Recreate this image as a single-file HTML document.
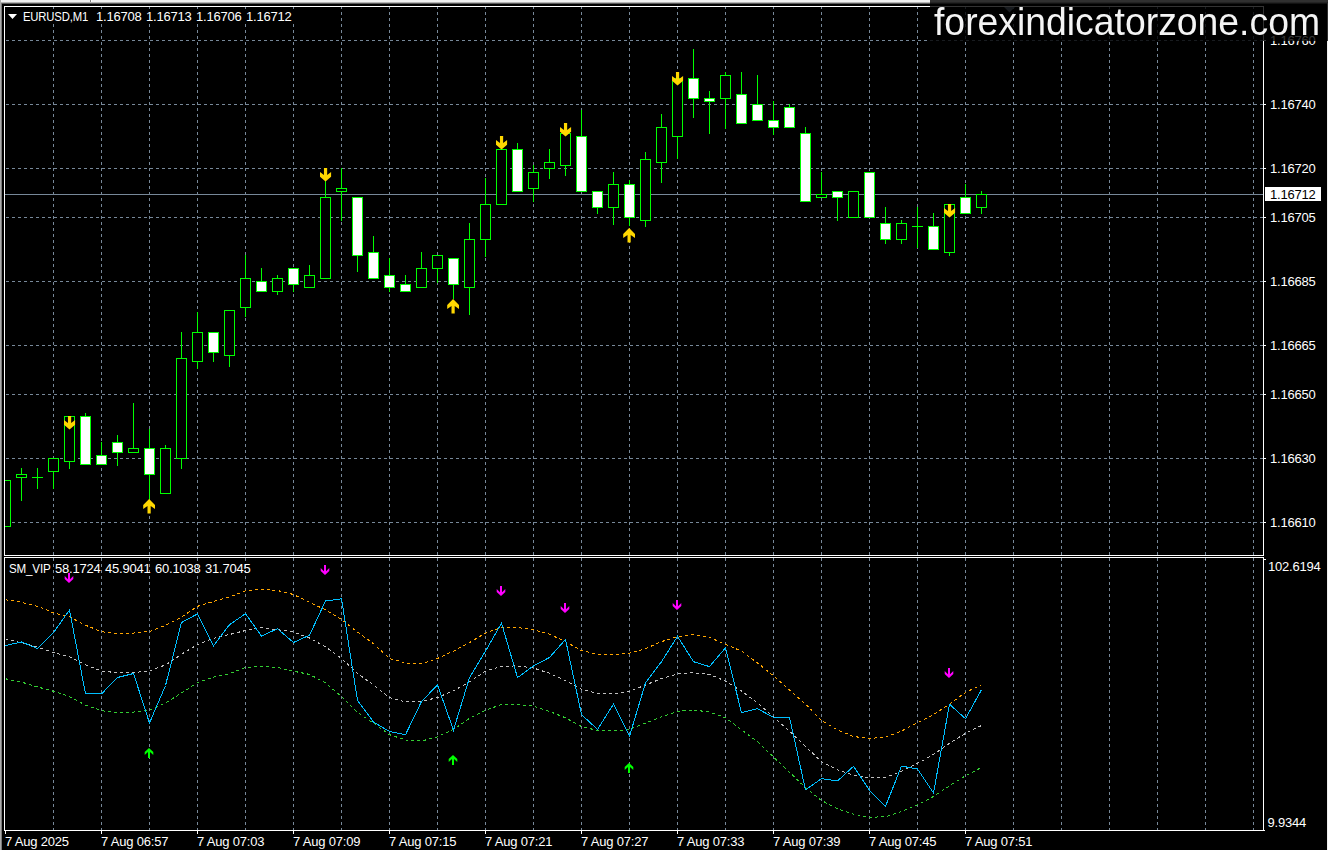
<!DOCTYPE html><html><head><meta charset="utf-8"><style>
html,body{margin:0;padding:0;background:#000;width:1328px;height:850px;overflow:hidden}
svg{display:block}
text{font-family:"Liberation Sans",sans-serif;fill:#fff}
.t{font-size:13px;letter-spacing:-0.2px}
</style></head><body>
<svg width="1328" height="850" viewBox="0 0 1328 850">
<defs><clipPath id="cm"><rect x="5" y="7" width="1258" height="548"/></clipPath>
<filter id="nof" x="0" y="0" width="1" height="1"><feOffset dx="0" dy="0"/></filter>
<clipPath id="cs"><rect x="5" y="558" width="1258" height="272"/></clipPath></defs>
<rect x="0" y="0" width="1328" height="850" fill="#000"/>
<rect x="0" y="0" width="1328" height="2" fill="#f0f0f0"/>
<rect x="0" y="2" width="1328" height="1" fill="#b4b4b4"/>
<rect x="0" y="3" width="1328" height="1" fill="#5a5a5a"/>
<rect x="90" y="0" width="1" height="2" fill="#808080"/>
<rect x="91" y="0" width="1" height="2" fill="#ffffff"/>
<rect x="0" y="0" width="1" height="850" fill="#ababab"/>
<rect x="1" y="3" width="1" height="850" fill="#7a7a7a"/>
<rect x="1327" y="3" width="1" height="850" fill="#f0f0f0"/>
<g shape-rendering="crispEdges">
<g clip-path="url(#cm)">
<line x1="0" y1="40.5" x2="1263" y2="40.5" stroke="#778899" stroke-dasharray="3 3"/>
<line x1="0" y1="104.5" x2="1263" y2="104.5" stroke="#778899" stroke-dasharray="3 3"/>
<line x1="0" y1="168.5" x2="1263" y2="168.5" stroke="#778899" stroke-dasharray="3 3"/>
<line x1="0" y1="217.5" x2="1263" y2="217.5" stroke="#778899" stroke-dasharray="3 3"/>
<line x1="0" y1="281.5" x2="1263" y2="281.5" stroke="#778899" stroke-dasharray="3 3"/>
<line x1="0" y1="345.5" x2="1263" y2="345.5" stroke="#778899" stroke-dasharray="3 3"/>
<line x1="0" y1="394.5" x2="1263" y2="394.5" stroke="#778899" stroke-dasharray="3 3"/>
<line x1="0" y1="458.5" x2="1263" y2="458.5" stroke="#778899" stroke-dasharray="3 3"/>
<line x1="0" y1="522.5" x2="1263" y2="522.5" stroke="#778899" stroke-dasharray="3 3"/>
<line x1="53.5" y1="0" x2="53.5" y2="556" stroke="#778899" stroke-dasharray="3 3"/>
<line x1="101.5" y1="0" x2="101.5" y2="556" stroke="#778899" stroke-dasharray="3 3"/>
<line x1="149.5" y1="0" x2="149.5" y2="556" stroke="#778899" stroke-dasharray="3 3"/>
<line x1="197.5" y1="0" x2="197.5" y2="556" stroke="#778899" stroke-dasharray="3 3"/>
<line x1="245.5" y1="0" x2="245.5" y2="556" stroke="#778899" stroke-dasharray="3 3"/>
<line x1="293.5" y1="0" x2="293.5" y2="556" stroke="#778899" stroke-dasharray="3 3"/>
<line x1="341.5" y1="0" x2="341.5" y2="556" stroke="#778899" stroke-dasharray="3 3"/>
<line x1="389.5" y1="0" x2="389.5" y2="556" stroke="#778899" stroke-dasharray="3 3"/>
<line x1="437.5" y1="0" x2="437.5" y2="556" stroke="#778899" stroke-dasharray="3 3"/>
<line x1="485.5" y1="0" x2="485.5" y2="556" stroke="#778899" stroke-dasharray="3 3"/>
<line x1="533.5" y1="0" x2="533.5" y2="556" stroke="#778899" stroke-dasharray="3 3"/>
<line x1="581.5" y1="0" x2="581.5" y2="556" stroke="#778899" stroke-dasharray="3 3"/>
<line x1="629.5" y1="0" x2="629.5" y2="556" stroke="#778899" stroke-dasharray="3 3"/>
<line x1="677.5" y1="0" x2="677.5" y2="556" stroke="#778899" stroke-dasharray="3 3"/>
<line x1="725.5" y1="0" x2="725.5" y2="556" stroke="#778899" stroke-dasharray="3 3"/>
<line x1="773.5" y1="0" x2="773.5" y2="556" stroke="#778899" stroke-dasharray="3 3"/>
<line x1="821.5" y1="0" x2="821.5" y2="556" stroke="#778899" stroke-dasharray="3 3"/>
<line x1="869.5" y1="0" x2="869.5" y2="556" stroke="#778899" stroke-dasharray="3 3"/>
<line x1="917.5" y1="0" x2="917.5" y2="556" stroke="#778899" stroke-dasharray="3 3"/>
<line x1="965.5" y1="0" x2="965.5" y2="556" stroke="#778899" stroke-dasharray="3 3"/>
<line x1="1013.5" y1="0" x2="1013.5" y2="556" stroke="#778899" stroke-dasharray="3 3"/>
<line x1="1061.5" y1="0" x2="1061.5" y2="556" stroke="#778899" stroke-dasharray="3 3"/>
<line x1="1109.5" y1="0" x2="1109.5" y2="556" stroke="#778899" stroke-dasharray="3 3"/>
<line x1="1157.5" y1="0" x2="1157.5" y2="556" stroke="#778899" stroke-dasharray="3 3"/>
<line x1="1205.5" y1="0" x2="1205.5" y2="556" stroke="#778899" stroke-dasharray="3 3"/>
<line x1="1253.5" y1="0" x2="1253.5" y2="556" stroke="#778899" stroke-dasharray="3 3"/>
<polygon points="1004,7 1015,7 1009.5,12.5" fill="#778899" shape-rendering="geometricPrecision"/>
<rect x="5" y="194" width="1258" height="1" fill="#778899"/>
<rect x="5" y="480" width="1" height="47" fill="#00ff00"/>
<rect x="0" y="480" width="11" height="47" fill="#00ff00"/>
<rect x="1" y="481" width="9" height="45" fill="#000"/>
<rect x="21" y="468" width="1" height="33" fill="#00ff00"/>
<rect x="16" y="474" width="11" height="4" fill="#00ff00"/>
<rect x="17" y="475" width="9" height="2" fill="#000"/>
<rect x="37" y="468" width="1" height="21" fill="#00ff00"/>
<rect x="32" y="477" width="11" height="1" fill="#00ff00"/>
<rect x="53" y="458" width="1" height="31" fill="#00ff00"/>
<rect x="48" y="458" width="11" height="14" fill="#00ff00"/>
<rect x="49" y="459" width="9" height="12" fill="#000"/>
<rect x="69" y="416" width="1" height="53" fill="#00ff00"/>
<rect x="64" y="416" width="11" height="46" fill="#00ff00"/>
<rect x="65" y="417" width="9" height="44" fill="#000"/>
<rect x="85" y="413" width="1" height="52" fill="#00ff00"/>
<rect x="80" y="416" width="11" height="49" fill="#00ff00"/>
<rect x="81" y="417" width="9" height="47" fill="#fff"/>
<rect x="101" y="442" width="1" height="23" fill="#00ff00"/>
<rect x="96" y="455" width="11" height="10" fill="#00ff00"/>
<rect x="97" y="456" width="9" height="8" fill="#fff"/>
<rect x="117" y="435" width="1" height="31" fill="#00ff00"/>
<rect x="112" y="442" width="11" height="11" fill="#00ff00"/>
<rect x="113" y="443" width="9" height="9" fill="#fff"/>
<rect x="133" y="403" width="1" height="50" fill="#00ff00"/>
<rect x="128" y="448" width="11" height="5" fill="#00ff00"/>
<rect x="129" y="449" width="9" height="3" fill="#000"/>
<rect x="149" y="429" width="1" height="72" fill="#00ff00"/>
<rect x="144" y="448" width="11" height="27" fill="#00ff00"/>
<rect x="145" y="449" width="9" height="25" fill="#fff"/>
<rect x="165" y="445" width="1" height="49" fill="#00ff00"/>
<rect x="160" y="448" width="11" height="46" fill="#00ff00"/>
<rect x="161" y="449" width="9" height="44" fill="#000"/>
<rect x="181" y="332" width="1" height="137" fill="#00ff00"/>
<rect x="176" y="358" width="11" height="101" fill="#00ff00"/>
<rect x="177" y="359" width="9" height="99" fill="#000"/>
<rect x="197" y="312" width="1" height="57" fill="#00ff00"/>
<rect x="192" y="332" width="11" height="30" fill="#00ff00"/>
<rect x="193" y="333" width="9" height="28" fill="#000"/>
<rect x="213" y="332" width="1" height="30" fill="#00ff00"/>
<rect x="208" y="332" width="11" height="21" fill="#00ff00"/>
<rect x="209" y="333" width="9" height="19" fill="#fff"/>
<rect x="229" y="310" width="1" height="57" fill="#00ff00"/>
<rect x="224" y="310" width="11" height="46" fill="#00ff00"/>
<rect x="225" y="311" width="9" height="44" fill="#000"/>
<rect x="245" y="255" width="1" height="62" fill="#00ff00"/>
<rect x="240" y="278" width="11" height="30" fill="#00ff00"/>
<rect x="241" y="279" width="9" height="28" fill="#000"/>
<rect x="261" y="268" width="1" height="24" fill="#00ff00"/>
<rect x="256" y="281" width="11" height="11" fill="#00ff00"/>
<rect x="257" y="282" width="9" height="9" fill="#fff"/>
<rect x="277" y="275" width="1" height="20" fill="#00ff00"/>
<rect x="272" y="278" width="11" height="14" fill="#00ff00"/>
<rect x="273" y="279" width="9" height="12" fill="#000"/>
<rect x="293" y="268" width="1" height="24" fill="#00ff00"/>
<rect x="288" y="268" width="11" height="17" fill="#00ff00"/>
<rect x="289" y="269" width="9" height="15" fill="#fff"/>
<rect x="309" y="265" width="1" height="23" fill="#00ff00"/>
<rect x="304" y="275" width="11" height="13" fill="#00ff00"/>
<rect x="305" y="276" width="9" height="11" fill="#000"/>
<rect x="325" y="181" width="1" height="98" fill="#00ff00"/>
<rect x="320" y="197" width="11" height="82" fill="#00ff00"/>
<rect x="321" y="198" width="9" height="80" fill="#000"/>
<rect x="341" y="168" width="1" height="53" fill="#00ff00"/>
<rect x="336" y="188" width="11" height="4" fill="#00ff00"/>
<rect x="337" y="189" width="9" height="2" fill="#000"/>
<rect x="357" y="197" width="1" height="75" fill="#00ff00"/>
<rect x="352" y="197" width="11" height="59" fill="#00ff00"/>
<rect x="353" y="198" width="9" height="57" fill="#fff"/>
<rect x="373" y="236" width="1" height="43" fill="#00ff00"/>
<rect x="368" y="252" width="11" height="27" fill="#00ff00"/>
<rect x="369" y="253" width="9" height="25" fill="#fff"/>
<rect x="389" y="258" width="1" height="34" fill="#00ff00"/>
<rect x="384" y="275" width="11" height="13" fill="#00ff00"/>
<rect x="385" y="276" width="9" height="11" fill="#fff"/>
<rect x="405" y="275" width="1" height="17" fill="#00ff00"/>
<rect x="400" y="284" width="11" height="8" fill="#00ff00"/>
<rect x="401" y="285" width="9" height="6" fill="#fff"/>
<rect x="421" y="252" width="1" height="36" fill="#00ff00"/>
<rect x="416" y="268" width="11" height="20" fill="#00ff00"/>
<rect x="417" y="269" width="9" height="18" fill="#000"/>
<rect x="437" y="255" width="1" height="28" fill="#00ff00"/>
<rect x="432" y="255" width="11" height="14" fill="#00ff00"/>
<rect x="433" y="256" width="9" height="12" fill="#000"/>
<rect x="453" y="258" width="1" height="41" fill="#00ff00"/>
<rect x="448" y="258" width="11" height="27" fill="#00ff00"/>
<rect x="449" y="259" width="9" height="25" fill="#fff"/>
<rect x="469" y="223" width="1" height="92" fill="#00ff00"/>
<rect x="464" y="239" width="11" height="49" fill="#00ff00"/>
<rect x="465" y="240" width="9" height="47" fill="#000"/>
<rect x="485" y="178" width="1" height="79" fill="#00ff00"/>
<rect x="480" y="204" width="11" height="36" fill="#00ff00"/>
<rect x="481" y="205" width="9" height="34" fill="#000"/>
<rect x="501" y="149" width="1" height="56" fill="#00ff00"/>
<rect x="496" y="149" width="11" height="56" fill="#00ff00"/>
<rect x="497" y="150" width="9" height="54" fill="#000"/>
<rect x="517" y="143" width="1" height="49" fill="#00ff00"/>
<rect x="512" y="149" width="11" height="43" fill="#00ff00"/>
<rect x="513" y="150" width="9" height="41" fill="#fff"/>
<rect x="533" y="165" width="1" height="37" fill="#00ff00"/>
<rect x="528" y="172" width="11" height="17" fill="#00ff00"/>
<rect x="529" y="173" width="9" height="15" fill="#000"/>
<rect x="549" y="149" width="1" height="30" fill="#00ff00"/>
<rect x="544" y="162" width="11" height="7" fill="#00ff00"/>
<rect x="545" y="163" width="9" height="5" fill="#000"/>
<rect x="565" y="133" width="1" height="43" fill="#00ff00"/>
<rect x="560" y="133" width="11" height="33" fill="#00ff00"/>
<rect x="561" y="134" width="9" height="31" fill="#000"/>
<rect x="581" y="110" width="1" height="82" fill="#00ff00"/>
<rect x="576" y="136" width="11" height="56" fill="#00ff00"/>
<rect x="577" y="137" width="9" height="54" fill="#fff"/>
<rect x="597" y="191" width="1" height="23" fill="#00ff00"/>
<rect x="592" y="191" width="11" height="17" fill="#00ff00"/>
<rect x="593" y="192" width="9" height="15" fill="#fff"/>
<rect x="613" y="172" width="1" height="53" fill="#00ff00"/>
<rect x="608" y="184" width="11" height="24" fill="#00ff00"/>
<rect x="609" y="185" width="9" height="22" fill="#000"/>
<rect x="629" y="180" width="1" height="46" fill="#00ff00"/>
<rect x="624" y="184" width="11" height="34" fill="#00ff00"/>
<rect x="625" y="185" width="9" height="32" fill="#fff"/>
<rect x="645" y="152" width="1" height="75" fill="#00ff00"/>
<rect x="640" y="159" width="11" height="62" fill="#00ff00"/>
<rect x="641" y="160" width="9" height="60" fill="#000"/>
<rect x="661" y="114" width="1" height="69" fill="#00ff00"/>
<rect x="656" y="127" width="11" height="36" fill="#00ff00"/>
<rect x="657" y="128" width="9" height="34" fill="#000"/>
<rect x="677" y="78" width="1" height="81" fill="#00ff00"/>
<rect x="672" y="78" width="11" height="59" fill="#00ff00"/>
<rect x="673" y="79" width="9" height="57" fill="#000"/>
<rect x="693" y="49" width="1" height="69" fill="#00ff00"/>
<rect x="688" y="78" width="11" height="21" fill="#00ff00"/>
<rect x="689" y="79" width="9" height="19" fill="#fff"/>
<rect x="709" y="91" width="1" height="43" fill="#00ff00"/>
<rect x="704" y="98" width="11" height="4" fill="#00ff00"/>
<rect x="705" y="99" width="9" height="2" fill="#fff"/>
<rect x="725" y="72" width="1" height="57" fill="#00ff00"/>
<rect x="720" y="75" width="11" height="24" fill="#00ff00"/>
<rect x="721" y="76" width="9" height="22" fill="#000"/>
<rect x="741" y="72" width="1" height="52" fill="#00ff00"/>
<rect x="736" y="94" width="11" height="30" fill="#00ff00"/>
<rect x="737" y="95" width="9" height="28" fill="#fff"/>
<rect x="757" y="75" width="1" height="46" fill="#00ff00"/>
<rect x="752" y="104" width="11" height="17" fill="#00ff00"/>
<rect x="753" y="105" width="9" height="15" fill="#fff"/>
<rect x="773" y="101" width="1" height="34" fill="#00ff00"/>
<rect x="768" y="120" width="11" height="8" fill="#00ff00"/>
<rect x="769" y="121" width="9" height="6" fill="#fff"/>
<rect x="789" y="104" width="1" height="24" fill="#00ff00"/>
<rect x="784" y="107" width="11" height="21" fill="#00ff00"/>
<rect x="785" y="108" width="9" height="19" fill="#fff"/>
<rect x="805" y="127" width="1" height="75" fill="#00ff00"/>
<rect x="800" y="133" width="11" height="69" fill="#00ff00"/>
<rect x="801" y="134" width="9" height="67" fill="#fff"/>
<rect x="821" y="172" width="1" height="26" fill="#00ff00"/>
<rect x="816" y="194" width="11" height="4" fill="#00ff00"/>
<rect x="817" y="195" width="9" height="2" fill="#000"/>
<rect x="837" y="191" width="1" height="30" fill="#00ff00"/>
<rect x="832" y="191" width="11" height="7" fill="#00ff00"/>
<rect x="833" y="192" width="9" height="5" fill="#fff"/>
<rect x="853" y="191" width="1" height="27" fill="#00ff00"/>
<rect x="848" y="191" width="11" height="27" fill="#00ff00"/>
<rect x="849" y="192" width="9" height="25" fill="#000"/>
<rect x="869" y="172" width="1" height="46" fill="#00ff00"/>
<rect x="864" y="172" width="11" height="46" fill="#00ff00"/>
<rect x="865" y="173" width="9" height="44" fill="#fff"/>
<rect x="885" y="207" width="1" height="37" fill="#00ff00"/>
<rect x="880" y="223" width="11" height="17" fill="#00ff00"/>
<rect x="881" y="224" width="9" height="15" fill="#fff"/>
<rect x="901" y="220" width="1" height="24" fill="#00ff00"/>
<rect x="896" y="223" width="11" height="17" fill="#00ff00"/>
<rect x="897" y="224" width="9" height="15" fill="#000"/>
<rect x="917" y="207" width="1" height="41" fill="#00ff00"/>
<rect x="912" y="226" width="11" height="1" fill="#00ff00"/>
<rect x="933" y="213" width="1" height="37" fill="#00ff00"/>
<rect x="928" y="226" width="11" height="24" fill="#00ff00"/>
<rect x="929" y="227" width="9" height="22" fill="#fff"/>
<rect x="949" y="204" width="1" height="52" fill="#00ff00"/>
<rect x="944" y="204" width="11" height="49" fill="#00ff00"/>
<rect x="945" y="205" width="9" height="47" fill="#000"/>
<rect x="965" y="184" width="1" height="30" fill="#00ff00"/>
<rect x="960" y="197" width="11" height="17" fill="#00ff00"/>
<rect x="961" y="198" width="9" height="15" fill="#fff"/>
<rect x="981" y="191" width="1" height="23" fill="#00ff00"/>
<rect x="976" y="194" width="11" height="14" fill="#00ff00"/>
<rect x="977" y="195" width="9" height="12" fill="#000"/>
</g>
<g clip-path="url(#cs)">
<line x1="53.5" y1="0" x2="53.5" y2="850" stroke="#778899" stroke-dasharray="3 3"/>
<line x1="101.5" y1="0" x2="101.5" y2="850" stroke="#778899" stroke-dasharray="3 3"/>
<line x1="149.5" y1="0" x2="149.5" y2="850" stroke="#778899" stroke-dasharray="3 3"/>
<line x1="197.5" y1="0" x2="197.5" y2="850" stroke="#778899" stroke-dasharray="3 3"/>
<line x1="245.5" y1="0" x2="245.5" y2="850" stroke="#778899" stroke-dasharray="3 3"/>
<line x1="293.5" y1="0" x2="293.5" y2="850" stroke="#778899" stroke-dasharray="3 3"/>
<line x1="341.5" y1="0" x2="341.5" y2="850" stroke="#778899" stroke-dasharray="3 3"/>
<line x1="389.5" y1="0" x2="389.5" y2="850" stroke="#778899" stroke-dasharray="3 3"/>
<line x1="437.5" y1="0" x2="437.5" y2="850" stroke="#778899" stroke-dasharray="3 3"/>
<line x1="485.5" y1="0" x2="485.5" y2="850" stroke="#778899" stroke-dasharray="3 3"/>
<line x1="533.5" y1="0" x2="533.5" y2="850" stroke="#778899" stroke-dasharray="3 3"/>
<line x1="581.5" y1="0" x2="581.5" y2="850" stroke="#778899" stroke-dasharray="3 3"/>
<line x1="629.5" y1="0" x2="629.5" y2="850" stroke="#778899" stroke-dasharray="3 3"/>
<line x1="677.5" y1="0" x2="677.5" y2="850" stroke="#778899" stroke-dasharray="3 3"/>
<line x1="725.5" y1="0" x2="725.5" y2="850" stroke="#778899" stroke-dasharray="3 3"/>
<line x1="773.5" y1="0" x2="773.5" y2="850" stroke="#778899" stroke-dasharray="3 3"/>
<line x1="821.5" y1="0" x2="821.5" y2="850" stroke="#778899" stroke-dasharray="3 3"/>
<line x1="869.5" y1="0" x2="869.5" y2="850" stroke="#778899" stroke-dasharray="3 3"/>
<line x1="917.5" y1="0" x2="917.5" y2="850" stroke="#778899" stroke-dasharray="3 3"/>
<line x1="965.5" y1="0" x2="965.5" y2="850" stroke="#778899" stroke-dasharray="3 3"/>
<line x1="1013.5" y1="0" x2="1013.5" y2="850" stroke="#778899" stroke-dasharray="3 3"/>
<line x1="1061.5" y1="0" x2="1061.5" y2="850" stroke="#778899" stroke-dasharray="3 3"/>
<line x1="1109.5" y1="0" x2="1109.5" y2="850" stroke="#778899" stroke-dasharray="3 3"/>
<line x1="1157.5" y1="0" x2="1157.5" y2="850" stroke="#778899" stroke-dasharray="3 3"/>
<line x1="1205.5" y1="0" x2="1205.5" y2="850" stroke="#778899" stroke-dasharray="3 3"/>
<line x1="1253.5" y1="0" x2="1253.5" y2="850" stroke="#778899" stroke-dasharray="3 3"/>
</g>
</g>
<g clip-path="url(#cm)">
<polygon points="67.95,416.00 71.15,416.00 71.15,423.10 75.10,419.90 75.10,424.80 69.55,429.50 64.00,424.80 64.00,419.90 67.95,423.10" fill="#ffd700"/>
<polygon points="323.95,168.00 327.15,168.00 327.15,175.10 331.10,171.90 331.10,176.80 325.55,181.50 320.00,176.80 320.00,171.90 323.95,175.10" fill="#ffd700"/>
<polygon points="499.95,136.00 503.15,136.00 503.15,143.10 507.10,139.90 507.10,144.80 501.55,149.50 496.00,144.80 496.00,139.90 499.95,143.10" fill="#ffd700"/>
<polygon points="563.95,123.00 567.15,123.00 567.15,130.10 571.10,126.90 571.10,131.80 565.55,136.50 560.00,131.80 560.00,126.90 563.95,130.10" fill="#ffd700"/>
<polygon points="675.95,72.00 679.15,72.00 679.15,79.10 683.10,75.90 683.10,80.80 677.55,85.50 672.00,80.80 672.00,75.90 675.95,79.10" fill="#ffd700"/>
<polygon points="947.95,204.00 951.15,204.00 951.15,211.10 955.10,207.90 955.10,212.80 949.55,217.50 944.00,212.80 944.00,207.90 947.95,211.10" fill="#ffd700"/>
<polygon points="149.10,499.00 155.00,504.90 155.00,508.90 150.70,506.00 150.70,513.40 147.50,513.40 147.50,506.00 143.20,508.90 143.20,504.90" fill="#ffd700"/>
<polygon points="453.10,299.00 459.00,304.90 459.00,308.90 454.70,306.00 454.70,313.40 451.50,313.40 451.50,306.00 447.20,308.90 447.20,304.90" fill="#ffd700"/>
<polygon points="629.10,228.00 635.00,233.90 635.00,237.90 630.70,235.00 630.70,242.40 627.50,242.40 627.50,235.00 623.20,237.90 623.20,233.90" fill="#ffd700"/>
</g>
<g clip-path="url(#cs)" shape-rendering="crispEdges" fill="none">
<polyline points="5.5,599.7 21.5,602.3 37.5,606.3 53.5,612.8 69.5,616.9 85.5,625.2 101.5,631.7 117.5,633.5 133.5,633.1 149.5,631.5 165.5,625.2 181.5,617.2 197.5,606.3 213.5,601.4 229.5,597.0 245.5,590.8 261.5,589.4 277.5,590.5 293.5,594.5 309.5,602.4 325.5,609.8 341.5,619.4 357.5,632.1 373.5,643.7 389.5,658.5 405.5,663.0 421.5,663.8 437.5,658.5 453.5,651.1 469.5,642.6 485.5,633.1 501.5,627.4 517.5,627.4 533.5,629.9 549.5,634.2 565.5,641.6 581.5,650.5 597.5,654.3 613.5,654.9 629.5,653.2 645.5,648.6 661.5,641.6 677.5,636.7 693.5,634.6 709.5,637.4 725.5,644.4 741.5,651.1 757.5,662.9 773.5,675.8 789.5,689.9 805.5,704.0 821.5,720.5 837.5,729.9 853.5,736.5 869.5,738.5 885.5,737.1 901.5,731.0 917.5,722.8 933.5,714.7 949.5,704.2 965.5,692.4 981.5,684.8" stroke="#ffa500" stroke-width="1" stroke-dasharray="3 3"/>
<polyline points="5.5,638.8 21.5,642.8 37.5,647.2 53.5,652.5 69.5,656.9 85.5,664.9 101.5,671.0 117.5,672.8 133.5,672.5 149.5,671.0 165.5,664.9 181.5,654.3 197.5,644.6 213.5,638.4 229.5,634.5 245.5,630.5 261.5,627.8 277.5,629.6 293.5,632.0 309.5,638.0 325.5,646.9 341.5,658.5 357.5,673.3 373.5,685.0 389.5,697.7 405.5,701.9 421.5,701.5 437.5,697.5 453.5,690.9 469.5,681.8 485.5,671.2 501.5,666.3 517.5,665.9 533.5,668.0 549.5,673.3 565.5,680.7 581.5,689.2 597.5,693.4 613.5,693.9 629.5,691.3 645.5,685.0 661.5,678.6 677.5,674.0 693.5,672.7 709.5,674.4 725.5,681.1 741.5,691.1 757.5,702.9 773.5,717.0 789.5,731.1 805.5,746.4 821.5,761.7 837.5,769.9 853.5,775.2 869.5,778.0 885.5,777.3 901.5,771.3 917.5,763.5 933.5,754.5 949.5,743.3 965.5,733.3 981.5,725.5" stroke="#c0c0c0" stroke-width="1" stroke-dasharray="3 3"/>
<polyline points="5.5,678.8 21.5,682.1 37.5,686.9 53.5,691.3 69.5,696.6 85.5,705.1 101.5,710.7 117.5,712.5 133.5,712.1 149.5,710.1 165.5,702.8 181.5,693.1 197.5,682.5 213.5,677.2 229.5,673.7 245.5,667.5 261.5,666.3 277.5,667.5 293.5,671.2 309.5,674.4 325.5,682.9 341.5,696.6 357.5,712.5 373.5,723.1 389.5,734.7 405.5,740.0 421.5,741.1 437.5,736.8 453.5,729.4 469.5,718.4 485.5,710.4 501.5,704.4 517.5,704.4 533.5,706.1 549.5,711.4 565.5,717.8 581.5,726.5 597.5,730.5 613.5,731.1 629.5,729.4 645.5,723.1 661.5,716.7 677.5,711.4 693.5,709.9 709.5,712.1 725.5,717.7 741.5,729.9 757.5,741.7 773.5,757.0 789.5,772.3 805.5,787.6 821.5,800.5 837.5,808.7 853.5,814.2 869.5,817.3 885.5,816.7 901.5,811.5 917.5,804.8 933.5,796.5 949.5,785.8 965.5,775.8 981.5,767.5" stroke="#32cd32" stroke-width="1" stroke-dasharray="3 3"/>
<polyline points="5.5,645.5 21.5,642.0 37.5,648.5 53.5,632.5 69.5,610.0 85.5,693.9 101.5,693.9 117.5,677.5 133.5,673.5 149.5,723.0 165.5,685.5 181.5,622.5 197.5,613.9 213.5,645.8 229.5,624.7 245.5,613.7 261.5,636.1 277.5,628.7 293.5,642.5 309.5,635.2 325.5,601.0 341.5,598.8 357.5,700.4 373.5,722.0 389.5,731.5 405.5,734.7 421.5,701.5 437.5,685.0 453.5,730.1 469.5,677.6 485.5,651.1 501.5,623.2 517.5,677.6 533.5,665.9 549.5,657.5 565.5,639.5 581.5,714.5 597.5,729.5 613.5,704.0 629.5,736.2 645.5,682.9 661.5,661.7 677.5,636.3 693.5,661.7 709.5,666.6 725.5,647.8 741.5,712.7 757.5,708.7 773.5,717.4 789.5,717.4 805.5,789.9 821.5,778.6 837.5,781.0 853.5,766.3 869.5,790.3 885.5,806.4 901.5,766.1 917.5,769.0 933.5,793.0 949.5,704.2 965.5,718.7 981.5,689.7" stroke="#00bfff" stroke-width="1"/>
</g>
<g clip-path="url(#cs)">
<polygon points="68.00,573.00 70.00,573.00 70.00,579.20 73.30,576.00 73.30,579.10 69.00,583.00 64.70,579.10 64.70,576.00 68.00,579.20" fill="#ff00ff"/>
<polygon points="324.00,565.00 326.00,565.00 326.00,571.20 329.30,568.00 329.30,571.10 325.00,575.00 320.70,571.10 320.70,568.00 324.00,571.20" fill="#ff00ff"/>
<polygon points="500.00,586.00 502.00,586.00 502.00,592.20 505.30,589.00 505.30,592.10 501.00,596.00 496.70,592.10 496.70,589.00 500.00,592.20" fill="#ff00ff"/>
<polygon points="564.00,603.00 566.00,603.00 566.00,609.20 569.30,606.00 569.30,609.10 565.00,613.00 560.70,609.10 560.70,606.00 564.00,609.20" fill="#ff00ff"/>
<polygon points="676.00,600.00 678.00,600.00 678.00,606.20 681.30,603.00 681.30,606.10 677.00,610.00 672.70,606.10 672.70,603.00 676.00,606.20" fill="#ff00ff"/>
<polygon points="948.00,668.00 950.00,668.00 950.00,674.20 953.30,671.00 953.30,674.10 949.00,678.00 944.70,674.10 944.70,671.00 948.00,674.20" fill="#ff00ff"/>
<polygon points="149.00,748.00 153.30,752.00 153.30,755.00 150.00,751.90 150.00,758.00 148.00,758.00 148.00,751.90 144.70,755.00 144.70,752.00" fill="#00ff00"/>
<polygon points="453.00,755.00 457.30,759.00 457.30,762.00 454.00,758.90 454.00,765.00 452.00,765.00 452.00,758.90 448.70,762.00 448.70,759.00" fill="#00ff00"/>
<polygon points="629.00,763.00 633.30,767.00 633.30,770.00 630.00,766.90 630.00,773.00 628.00,773.00 628.00,766.90 624.70,770.00 624.70,767.00" fill="#00ff00"/>
</g>
<g shape-rendering="crispEdges">
<rect x="4" y="6" width="1260" height="1" fill="#fff"/>
<rect x="4" y="6" width="1" height="550" fill="#fff"/>
<rect x="4" y="555" width="1260" height="1" fill="#fff"/>
<rect x="1263" y="6" width="1" height="550" fill="#fff"/>
<rect x="4" y="557" width="1260" height="1" fill="#fff"/>
<rect x="4" y="557" width="1" height="274" fill="#fff"/>
<rect x="4" y="830" width="1260" height="1" fill="#fff"/>
<rect x="1263" y="557" width="1" height="274" fill="#fff"/>
<rect x="1264" y="40" width="2" height="1" fill="#fff"/>
<rect x="1264" y="104" width="2" height="1" fill="#fff"/>
<rect x="1264" y="168" width="2" height="1" fill="#fff"/>
<rect x="1264" y="217" width="2" height="1" fill="#fff"/>
<rect x="1264" y="281" width="2" height="1" fill="#fff"/>
<rect x="1264" y="345" width="2" height="1" fill="#fff"/>
<rect x="1264" y="394" width="2" height="1" fill="#fff"/>
<rect x="1264" y="458" width="2" height="1" fill="#fff"/>
<rect x="1264" y="522" width="2" height="1" fill="#fff"/>
<rect x="1264" y="559" width="2" height="1" fill="#fff"/>
<rect x="1264" y="830" width="1" height="1" fill="#fff"/>
<rect x="5" y="831" width="1" height="3" fill="#fff"/>
<rect x="101" y="831" width="1" height="3" fill="#fff"/>
<rect x="197" y="831" width="1" height="3" fill="#fff"/>
<rect x="293" y="831" width="1" height="3" fill="#fff"/>
<rect x="389" y="831" width="1" height="3" fill="#fff"/>
<rect x="485" y="831" width="1" height="3" fill="#fff"/>
<rect x="581" y="831" width="1" height="3" fill="#fff"/>
<rect x="677" y="831" width="1" height="3" fill="#fff"/>
<rect x="773" y="831" width="1" height="3" fill="#fff"/>
<rect x="869" y="831" width="1" height="3" fill="#fff"/>
<rect x="965" y="831" width="1" height="3" fill="#fff"/>
</g>
<text class="t" x="1270" y="45">1.16760</text>
<text class="t" x="1270" y="109">1.16740</text>
<text class="t" x="1270" y="173">1.16720</text>
<text class="t" x="1270" y="222">1.16705</text>
<text class="t" x="1270" y="286">1.16685</text>
<text class="t" x="1270" y="350">1.16665</text>
<text class="t" x="1270" y="399">1.16650</text>
<text class="t" x="1270" y="463">1.16630</text>
<text class="t" x="1270" y="527">1.16610</text>
<rect x="1265" y="187" width="56" height="14" fill="#fff"/>
<text class="t" x="1270" y="199" style="fill:#000">1.16712</text>
<text class="t" x="1268" y="571">102.6194</text>
<text class="t" x="1267.5" y="827">9.9344</text>
<text class="t" x="5" y="846">7 Aug 2025</text>
<text class="t" x="101" y="846">7 Aug 06:57</text>
<text class="t" x="197" y="846">7 Aug 07:03</text>
<text class="t" x="293" y="846">7 Aug 07:09</text>
<text class="t" x="389" y="846">7 Aug 07:15</text>
<text class="t" x="485" y="846">7 Aug 07:21</text>
<text class="t" x="581" y="846">7 Aug 07:27</text>
<text class="t" x="677" y="846">7 Aug 07:33</text>
<text class="t" x="773" y="846">7 Aug 07:39</text>
<text class="t" x="869" y="846">7 Aug 07:45</text>
<text class="t" x="965" y="846">7 Aug 07:51</text>
<rect x="8" y="9" width="290" height="14" fill="#000"/>
<polygon points="8,14 17,14 12.5,19" fill="#fff"/>
<text class="t" x="23" y="21" textLength="65" lengthAdjust="spacingAndGlyphs">EURUSD,M1</text>
<text class="t" x="96" y="21">1.16708</text>
<text class="t" x="146" y="21">1.16713</text>
<text class="t" x="196" y="21">1.16706</text>
<text class="t" x="246" y="21">1.16712</text>
<text class="t" x="9" y="573" textLength="41.5" lengthAdjust="spacingAndGlyphs">SM_VIP</text>
<text class="t" x="55" y="573">58.1724</text>
<text class="t" x="105" y="573">45.9041</text>
<text class="t" x="155" y="573">60.1038</text>
<text class="t" x="205" y="573">31.7045</text>
<rect x="930" y="0" width="398" height="41" fill="rgba(0,0,0,0.8)"/>
<g filter="url(#nof)"><text x="934" y="35" textLength="386" lengthAdjust="spacingAndGlyphs" style="font-size:39px;fill:#f4f4f4">forexindicatorzone.com</text></g>
</svg></body></html>
